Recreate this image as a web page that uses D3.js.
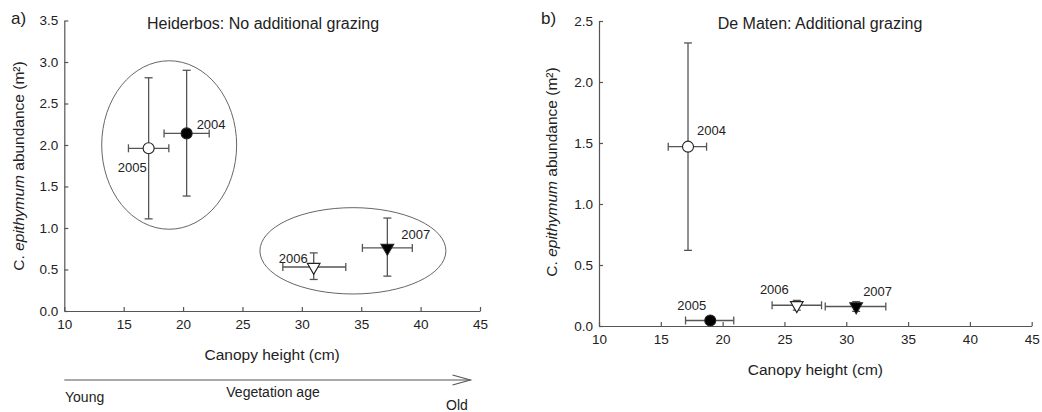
<!DOCTYPE html>
<html>
<head>
<meta charset="utf-8">
<script src="https://cdn.jsdelivr.net/npm/d3@7"></script>
<style>
  body { margin: 0; background: #fff; }
  svg text { font-family: "Liberation Sans", Arial, sans-serif; fill: #222; }
</style>
</head>
<body>
<svg id="chart" width="1042" height="412"></svg>
<script>
// ---- data ----
var years = ["2004", "2005", "2006", "2007"];

// panel a) Heiderbos
var heightA   = [20.3, 17.1, 31.0, 37.2];
var heightALo = [18.4, 15.4, 28.4, 35.1];
var heightAHi = [22.2, 18.8, 33.7, 39.3];
var abundA    = [2.14, 1.96, 0.53, 0.76];
var abundALo  = [1.385, 1.11, 0.38, 0.42];
var abundAHi  = [2.90, 2.81, 0.70, 1.12];
var symbolA   = ["circleFilled", "circleOpen", "triOpen", "triFilled"];

// panel b) De Maten
var heightB   = [17.2, 19.0, 26.0, 30.8];
var heightBLo = [15.6, 17.0, 24.0, 28.3];
var heightBHi = [18.7, 20.9, 28.0, 33.2];
var abundB    = [1.47, 0.045, 0.17, 0.16];
var abundBLo  = [0.62, 0.03, 0.13, 0.12];
var abundBHi  = [2.32, 0.06, 0.21, 0.20];
var symbolB   = ["circleOpen", "circleFilled", "triOpen", "triFilled"];

// grouping ellipses in panel a (centre x, centre y, radius x, radius y, data units)
var groupCx = [18.83, 34.3];
var groupCy = [2.0, 0.725];
var groupRx = [5.68, 7.83];
var groupRy = [1.015, 0.52];

var xTicks = [10, 15, 20, 25, 30, 35, 40, 45];
var yTicksA = [0, 0.5, 1, 1.5, 2, 2.5, 3, 3.5];
var yTicksB = [0, 0.5, 1, 1.5, 2, 2.5];

var svg = d3.select("#chart");
var axisColor = "#555", barColor = "#555";

function drawPanel(opt) {
    var x = d3.scaleLinear().domain([10, 45]).range([opt.left, opt.right]);
    var y = d3.scaleLinear().domain([0, opt.yMax]).range([opt.bottom, opt.top]);
    var g = svg.append("g");

    // axes with inward ticks
    var ax = g.append("g")
      .attr("transform", "translate(0," + opt.bottom + ")")
      .call(d3.axisBottom(x).tickValues(xTicks).tickSizeInner(-4).tickSizeOuter(0).tickPadding(8));
    var ay = g.append("g")
      .attr("transform", "translate(" + opt.left + ",0)")
      .call(d3.axisLeft(y).tickValues(opt.yTicks).tickFormat(d3.format(".1f"))
            .tickSizeInner(-4).tickSizeOuter(0).tickPadding(6));
    [ax, ay].forEach(function(a) {
        a.selectAll("path, line").attr("stroke", axisColor).attr("stroke-width", 1.2);
        a.selectAll("text").style("font-size", "13.5px").attr("fill", "#222");
    });

    // ellipses
    if (opt.ellipses) {
        for (var k = 0; k < groupCx.length; k++) {
            g.append("ellipse")
              .attr("cx", x(groupCx[k]))
              .attr("cy", y(groupCy[k]))
              .attr("rx", x(groupCx[k] + groupRx[k]) - x(groupCx[k]))
              .attr("ry", y(0) - y(groupRy[k]))
              .attr("fill", "none")
              .attr("stroke", "#666")
              .attr("stroke-width", 1);
        }
    }

    var cap = 4;
    for (var i = 0; i < years.length; i++) {
        var px = x(opt.hx[i]), py = y(opt.ay[i]);
        var eb = g.append("g").attr("stroke", barColor).attr("stroke-width", 1.3);
        // vertical error bar
        eb.append("line").attr("x1", px).attr("x2", px)
          .attr("y1", y(opt.ayLo[i])).attr("y2", y(opt.ayHi[i]));
        [opt.ayLo[i], opt.ayHi[i]].forEach(function(v) {
            eb.append("line").attr("x1", px - cap).attr("x2", px + cap)
              .attr("y1", y(v)).attr("y2", y(v));
        });
        // horizontal error bar
        eb.append("line").attr("y1", py).attr("y2", py)
          .attr("x1", x(opt.hxLo[i])).attr("x2", x(opt.hxHi[i]));
        [opt.hxLo[i], opt.hxHi[i]].forEach(function(v) {
            eb.append("line").attr("y1", py - cap).attr("y2", py + cap)
              .attr("x1", x(v)).attr("x2", x(v));
        });

        // marker
        var s = opt.sym[i];
        var filled = s.indexOf("Filled") >= 0;
        var shape = s.indexOf("circle") === 0 ? d3.symbolCircle : d3.symbolTriangle;
        var size = s.indexOf("circle") === 0 ? 95 : 70;
        g.append("path")
          .attr("d", d3.symbol().type(shape).size(size)())
          .attr("transform", "translate(" + px + "," + py + ")" + (shape === d3.symbolTriangle ? " rotate(180)" : ""))
          .attr("fill", filled ? "#000" : "#fff")
          .attr("stroke", "#222")
          .attr("stroke-width", 1.1);

        // year label
        var lo = opt.labelOff[i];
        g.append("text")
          .attr("x", px + lo[0]).attr("y", py + lo[1])
          .attr("text-anchor", lo[2])
          .style("font-size", "13px")
          .text(years[i]);
    }

    // titles and axis labels
    g.append("text").attr("x", opt.titleX).attr("y", 29)
      .attr("text-anchor", "middle").style("font-size", "16px").text(opt.title);
    g.append("text").attr("x", opt.panelX).attr("y", 24)
      .style("font-size", "17px").text(opt.panel);
    g.append("text").attr("x", (opt.left + opt.right) / 2).attr("y", opt.bottom + 49)
      .attr("text-anchor", "middle").style("font-size", "15.5px").text("Canopy height (cm)");

    var yl = g.append("text")
      .attr("transform", "translate(" + opt.yLabelX + "," + opt.yLabelY + ") rotate(-90)")
      .attr("text-anchor", "middle").style("font-size", "15.5px");
    yl.append("tspan").text("C. ");
    yl.append("tspan").style("font-style", "italic").text("epithymum");
    yl.append("tspan").text(" abundance (m\u00B2)");

    return x;
}

// label offsets in pixels from each point: dx, dy, anchor
var labelOffA = [[10, -4, "start"], [-2, 24, "end"], [-6, -4, "end"], [14, -9, "start"]];
var labelOffB = [[9, -12, "start"], [-4, -11, "end"], [-8, -11, "end"], [7, -10, "start"]];

var xA = drawPanel({
    left: 64.3, right: 480, top: 20.5, bottom: 311, yMax: 3.5, yTicks: yTicksA,
    hx: heightA, hxLo: heightALo, hxHi: heightAHi,
    ay: abundA, ayLo: abundALo, ayHi: abundAHi, sym: symbolA,
    labelOff: labelOffA, ellipses: true,
    title: "Heiderbos: No additional grazing", titleX: 263, panel: "a)", panelX: 11,
    yLabelX: 24, yLabelY: 166
});

drawPanel({
    left: 599, right: 1031.7, top: 21, bottom: 326, yMax: 2.5, yTicks: yTicksB,
    hx: heightB, hxLo: heightBLo, hxHi: heightBHi,
    ay: abundB, ayLo: abundBLo, ayHi: abundBHi, sym: symbolB,
    labelOff: labelOffB, ellipses: false,
    title: "De Maten: Additional grazing", titleX: 820, panel: "b)", panelX: 541,
    yLabelX: 557, yLabelY: 172
});

// vegetation age arrow under panel a
var arrowY = 380, arrowEnd = xA(44.2);
var arrow = svg.append("g").attr("stroke", "#555").attr("stroke-width", 1.1).attr("fill", "none");
arrow.append("line").attr("x1", xA(10)).attr("x2", arrowEnd).attr("y1", arrowY).attr("y2", arrowY);
arrow.append("path").attr("d", "M" + (arrowEnd - 18) + "," + (arrowY - 5) + "L" + arrowEnd + "," + arrowY +
                          "L" + (arrowEnd - 18) + "," + (arrowY + 5));
svg.append("text").attr("x", 65).attr("y", 402).style("font-size", "14px").text("Young");
svg.append("text").attr("x", 273).attr("y", 397).attr("text-anchor", "middle").style("font-size", "14px").text("Vegetation age");
svg.append("text").attr("x", 446).attr("y", 410).style("font-size", "14px").text("Old");
</script>
</body>
</html>
